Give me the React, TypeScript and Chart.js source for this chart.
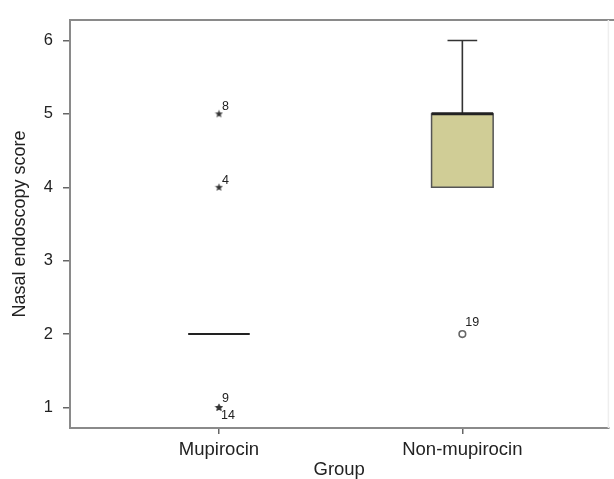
import React, { useEffect, useRef } from 'react';
import { Chart, registerables } from 'chart.js';

Chart.register(...registerables);

// ---- data ----
const groups = ['Mupirocin', 'Non-mupirocin'];
const groupPos = [1, 2];
const whiskerLow = [2, 4];
const q1 = [2, 4];
const median = [2, 5];
const q3 = [2, 5];
const whiskerHigh = [2, 6];

const extremeGroup = [0, 0, 0, 0];
const extremeValue = [5, 4, 1, 1];
const extremeCase = ['8', '4', '9', '14'];

const outlierGroup = [1];
const outlierValue = [2];
const outlierCase = ['19'];

const yTicks = [1, 2, 3, 4, 5, 6];

// ---- styles ----
const FONT = '"Liberation Sans", Arial, Helvetica, sans-serif';
const BOX_W = 0.253;
const CAP_W = 0.122;
const BOX_FILL = 'rgb(208,205,150)';
const INK = '#333';
const AXIS = '#8a8a8a';

function makeStar(): HTMLCanvasElement {
  const c = document.createElement('canvas');
  c.width = 9;
  c.height = 9;
  const g = c.getContext('2d')!;
  g.fillStyle = '#333';
  g.beginPath();
  const cx = 4.5, cy = 4.6, R = 4.2, r = 1.8;
  for (let i = 0; i < 10; i++) {
    const a = -Math.PI / 2 + (i * Math.PI) / 5;
    const rad = i % 2 === 0 ? R : r;
    const px = cx + rad * Math.cos(a);
    const py = cy + rad * Math.sin(a);
    if (i === 0) g.moveTo(px, py);
    else g.lineTo(px, py);
  }
  g.closePath();
  g.fill();
  return c;
}

const boxPlugin = {
  id: 'boxPlugin',
  beforeDatasetsDraw(chart: any) {
    const { ctx, scales } = chart;
    const x = scales.x, y = scales.y;
    ctx.save();
    for (let i = 0; i < groups.length; i++) {
      const cx = x.getPixelForValue(groupPos[i]);
      const hw = x.getPixelForValue(groupPos[i] + BOX_W / 2) - cx;
      const cw = x.getPixelForValue(groupPos[i] + CAP_W / 2) - cx;
      const yq1 = y.getPixelForValue(q1[i]);
      const yq3 = y.getPixelForValue(q3[i]);
      const ymed = y.getPixelForValue(median[i]);
      const ylo = y.getPixelForValue(whiskerLow[i]);
      const yhi = y.getPixelForValue(whiskerHigh[i]);
      ctx.strokeStyle = INK;
      ctx.lineWidth = 1.6;
      if (whiskerHigh[i] > q3[i]) {
        ctx.beginPath();
        ctx.moveTo(cx, yq3);
        ctx.lineTo(cx, yhi);
        ctx.moveTo(cx - cw, yhi);
        ctx.lineTo(cx + cw, yhi);
        ctx.stroke();
      }
      if (whiskerLow[i] < q1[i]) {
        ctx.beginPath();
        ctx.moveTo(cx, yq1);
        ctx.lineTo(cx, ylo);
        ctx.moveTo(cx - cw, ylo);
        ctx.lineTo(cx + cw, ylo);
        ctx.stroke();
      }
      if (q3[i] > q1[i]) {
        ctx.fillStyle = BOX_FILL;
        ctx.fillRect(cx - hw, yq3, hw * 2, yq1 - yq3);
        ctx.strokeStyle = '#555';
        ctx.lineWidth = 1.5;
        ctx.strokeRect(cx - hw, yq3, hw * 2, yq1 - yq3);
      }
      ctx.strokeStyle = '#222';
      ctx.lineWidth = q3[i] > q1[i] ? 3 : 2;
      ctx.beginPath();
      ctx.moveTo(cx - hw, ymed);
      ctx.lineTo(cx + hw, ymed);
      ctx.stroke();
    }
    ctx.restore();
  },
  afterDatasetsDraw(chart: any) {
    const { ctx, scales } = chart;
    const x = scales.x, y = scales.y;
    ctx.save();
    ctx.fillStyle = '#222';
    ctx.font = `12.5px ${FONT}`;
    ctx.textAlign = 'left';
    ctx.textBaseline = 'middle';
    const seen: Record<string, number> = {};
    const draw = (g: number, v: number, label: string, dyUp: number) => {
      const key = g + ':' + v;
      const n = seen[key] || 0;
      seen[key] = n + 1;
      const px = x.getPixelForValue(groupPos[g]);
      const py = y.getPixelForValue(v);
      if (n === 0) ctx.fillText(label, px + 3, py - dyUp);
      else ctx.fillText(label, px + 2, py + 8);
    };
    for (let i = 0; i < extremeValue.length; i++) {
      draw(extremeGroup[i], extremeValue[i], extremeCase[i], extremeValue[i] === 1 ? 9 : 7);
    }
    for (let i = 0; i < outlierValue.length; i++) {
      draw(outlierGroup[i], outlierValue[i], outlierCase[i], 12);
    }
    ctx.restore();
  },
  afterDraw(chart: any) {
    const { ctx, chartArea } = chart;
    ctx.save();
    ctx.strokeStyle = AXIS;
    ctx.lineWidth = 2;
    ctx.beginPath();
    ctx.moveTo(chartArea.left - 1, chartArea.top);
    ctx.lineTo(chart.width, chartArea.top);
    ctx.stroke();
    ctx.strokeStyle = '#eeeeee';
    ctx.lineWidth = 1.5;
    ctx.beginPath();
    ctx.moveTo(chartArea.right, chartArea.top);
    ctx.lineTo(chartArea.right, chartArea.bottom);
    ctx.stroke();
    ctx.restore();
  },
};

export default function App() {
  const ref = useRef<HTMLCanvasElement | null>(null);
  useEffect(() => {
    document.body.style.margin = '0';
    document.body.style.overflow = 'hidden';
    const star = makeStar();
    const chart = new Chart(ref.current!, {
      type: 'scatter',
      data: {
        datasets: [
          {
            label: 'Extremes',
            data: extremeValue.map((v, i) => ({ x: groupPos[extremeGroup[i]], y: v })),
            pointStyle: star as any,
            pointRadius: 4,
          },
          {
            label: 'Outliers',
            data: outlierValue.map((v, i) => ({ x: groupPos[outlierGroup[i]], y: v })),
            pointStyle: 'circle',
            pointRadius: 3.3,
            borderColor: '#666',
            borderWidth: 1.6,
            backgroundColor: '#fff',
          },
        ],
      },
      options: {
        responsive: false,
        animation: false,
        devicePixelRatio: 1,
        layout: { padding: { top: 13, right: 2, left: 0, bottom: 0 } },
        plugins: {
          legend: { display: false },
          tooltip: { enabled: false },
        },
        scales: {
          x: {
            type: 'linear',
            min: 0.388,
            max: 2.6,
            afterBuildTicks: (s: any) => {
              s.ticks = groupPos.map((v) => ({ value: v }));
            },
            afterFit: (s: any) => {
              s.height = 51;
            },
            ticks: {
              callback: (v: any) => groups[groupPos.indexOf(Number(v))] ?? '',
              color: '#222',
              font: { family: FONT, size: 18.5 },
              padding: 5,
              maxRotation: 0,
              autoSkip: false,
            },
            grid: { display: true, drawOnChartArea: false, drawTicks: true, tickLength: 6, color: '#666', lineWidth: 1.5 },
            border: { display: true, color: AXIS, width: 2 },
            title: {
              display: true,
              text: 'Group',
              color: '#222',
              font: { family: FONT, size: 18.5, lineHeight: 1 },
              padding: { top: 0, bottom: 0 },
            },
          },
          y: {
            type: 'linear',
            min: 0.72,
            max: 6.28,
            afterBuildTicks: (s: any) => {
              s.ticks = yTicks.map((v) => ({ value: v }));
            },
            afterFit: (s: any) => {
              s.width = 70;
            },
            ticks: {
              color: '#222',
              font: { family: FONT, size: 16.5 },
              padding: 10,
            },
            grid: { display: true, drawOnChartArea: false, drawTicks: true, tickLength: 7, color: '#666', lineWidth: 1.5 },
            border: { display: true, color: AXIS, width: 2 },
            title: {
              display: true,
              text: 'Nasal endoscopy score',
              color: '#222',
              font: { family: FONT, size: 18, lineHeight: 1.2 },
              padding: { top: 9, bottom: 0 },
            },
          },
        },
      },
      plugins: [boxPlugin],
    });
    return () => chart.destroy();
  }, []);
  return <canvas ref={ref} width={614} height={479} style={{ display: 'block' }} />;
}
